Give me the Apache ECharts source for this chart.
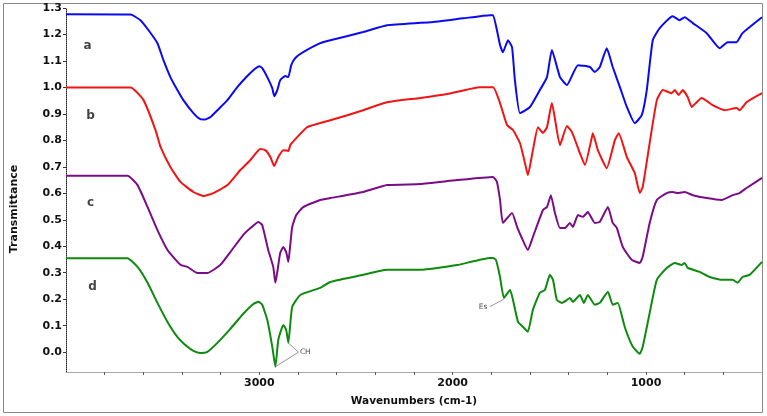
<!DOCTYPE html>
<html><head><meta charset="utf-8">
<script src="https://cdn.jsdelivr.net/npm/echarts@6/dist/echarts.min.js"></script>
<style>html,body{margin:0;padding:0;background:#fff}#c{width:767px;height:416px}</style>
</head><body><div id="c"></div>
<script>
// ---- data (wavenumber in cm-1, transmittance) ----
const aWn = [4000,3666,3615,3573,3527,3496,3460,3424,3393,3341,3305,3279,3253,3217,3165,3114,3062,3031,3000,2985,2959,2933,2923,2907,2892,2866,2850,2835,2814,2773,2685,2633,2463,2339,2117,1946,1807,1791,1771,1755,1740,1714,1693,1678,1652,1600,1549,1512,1487,1445,1409,1352,1290,1265,1239,1203,1172,1135,1099,1058,1022,996,965,929,862,826,800,758,686,619,578,532,501,400];
const aVal = [1.276,1.275,1.254,1.216,1.167,1.103,1.039,0.990,0.952,0.903,0.880,0.879,0.888,0.914,0.952,1.001,1.043,1.065,1.080,1.073,1.039,0.997,0.967,0.990,1.027,1.043,1.039,1.084,1.111,1.133,1.167,1.178,1.209,1.235,1.246,1.261,1.273,1.273,1.216,1.160,1.133,1.178,1.152,1.027,0.903,0.926,0.990,1.039,1.141,1.039,1.009,1.084,1.077,1.058,1.077,1.148,1.077,1.001,0.926,0.865,0.895,0.990,1.178,1.224,1.269,1.254,1.265,1.243,1.205,1.148,1.171,1.171,1.205,1.265];

const bWn = [4000,3666,3599,3537,3511,3460,3408,3341,3289,3238,3165,3098,3046,2995,2969,2943,2923,2902,2876,2850,2840,2804,2752,2633,2545,2463,2339,2168,2029,1859,1791,1755,1719,1688,1652,1626,1611,1585,1559,1533,1512,1487,1445,1409,1383,1342,1316,1280,1275,1249,1203,1161,1141,1099,1058,1032,1017,981,944,913,867,851,831,810,784,764,738,712,655,593,531,516,480,400];
const bVal = [1.000,1.000,0.952,0.839,0.775,0.699,0.643,0.605,0.590,0.601,0.631,0.688,0.726,0.767,0.763,0.737,0.703,0.737,0.763,0.760,0.782,0.812,0.850,0.876,0.895,0.914,0.944,0.960,0.975,1.001,1.001,0.941,0.858,0.839,0.790,0.714,0.669,0.763,0.850,0.828,0.850,0.941,0.782,0.854,0.831,0.752,0.707,0.812,0.827,0.763,0.695,0.801,0.827,0.737,0.676,0.601,0.624,0.790,0.952,0.990,0.978,0.990,0.971,0.990,0.963,0.926,0.944,0.960,0.933,0.914,0.922,0.914,0.944,0.978];

const cWn = [4000,3682,3630,3578,3527,3475,3408,3372,3320,3269,3201,3150,3083,3046,3005,2985,2954,2928,2917,2907,2892,2876,2861,2850,2840,2830,2809,2773,2685,2633,2463,2339,2168,1977,1791,1771,1755,1740,1693,1667,1642,1611,1585,1533,1512,1492,1471,1445,1419,1394,1378,1352,1327,1301,1265,1239,1197,1172,1151,1120,1073,1032,1017,981,944,893,862,836,800,758,686,609,552,516,480,400];
const cVal = [0.666,0.666,0.631,0.548,0.461,0.386,0.330,0.322,0.299,0.299,0.330,0.378,0.443,0.469,0.492,0.480,0.386,0.322,0.262,0.303,0.375,0.397,0.378,0.341,0.405,0.473,0.518,0.548,0.575,0.582,0.605,0.631,0.635,0.650,0.662,0.643,0.575,0.488,0.526,0.473,0.431,0.386,0.435,0.537,0.548,0.593,0.526,0.469,0.469,0.488,0.473,0.518,0.511,0.529,0.488,0.492,0.548,0.488,0.469,0.397,0.348,0.337,0.360,0.488,0.575,0.601,0.605,0.601,0.605,0.593,0.582,0.575,0.593,0.601,0.620,0.658];

const dWn = [4000,3682,3630,3578,3527,3475,3424,3372,3341,3305,3269,3217,3150,3083,3031,3005,2985,2959,2933,2917,2902,2876,2861,2850,2830,2788,2685,2633,2463,2339,2168,1977,1807,1791,1776,1755,1735,1703,1688,1662,1636,1611,1585,1549,1523,1497,1481,1461,1435,1409,1394,1378,1342,1321,1301,1265,1239,1197,1172,1146,1110,1068,1032,1017,981,944,893,851,815,800,784,722,671,604,552,526,501,464,400];
const dVal = [0.355,0.355,0.322,0.262,0.186,0.114,0.058,0.020,0.005,-0.003,0.001,0.035,0.088,0.145,0.182,0.190,0.179,0.122,0.020,-0.055,0.046,0.103,0.084,0.035,0.171,0.216,0.243,0.265,0.292,0.311,0.311,0.329,0.356,0.356,0.348,0.284,0.205,0.235,0.197,0.114,0.095,0.077,0.160,0.224,0.235,0.292,0.273,0.197,0.186,0.197,0.205,0.190,0.216,0.186,0.216,0.179,0.186,0.228,0.179,0.186,0.095,0.020,-0.006,0.020,0.148,0.273,0.318,0.337,0.329,0.337,0.318,0.303,0.284,0.273,0.273,0.262,0.284,0.292,0.341];

// curve letters
const curveNames = ['a','b','c','d'];
const curveLabelWn = [3889,3873,3873,3863];
const curveLabelVal = [1.157,0.893,0.563,0.246];

// annotations
const chWn = [2917,2798,2850];
const chVal = [-0.055,0.0,0.035];
const esWn = [1807,1735];
const esVal = [0.172,0.200];

// axes
const xTickValues = [3800,3600,3400,3200,3000,2800,2600,2400,2200,2000,1800,1600,1400,1200,1000,800,600];
const xLabelValues = [3000,2000,1000];
const yLabelValues = [0.0,0.1,0.2,0.3,0.4,0.5,0.6,0.7,0.8,0.9,1.0,1.1,1.2,1.3];

const colors = ['#0a0af2','#f01414','#7b0c88','#0e8a0e'];

function pairs(w,v){return w.map((x,i)=>[x,v[i]]);}

const chart = echarts.init(document.getElementById('c'), null, {renderer:'canvas'});
const tickFont = {fontFamily:'DejaVu Sans', fontWeight:'bold', fontSize:11, color:'#111'};

const curveSeries = [[aWn,aVal],[bWn,bVal],[cWn,cVal],[dWn,dVal]].map((s,i)=>({
  type:'line', name:curveNames[i], data:pairs(s[0],s[1]), showSymbol:false, symbol:'none',
  smooth:0.15, lineStyle:{color:colors[i], width:2}, silent:true, animation:false, z:3
}));

chart.setOption({
  animation:false,
  backgroundColor:'#fff',
  grid:{left:66, right:5, top:8, bottom:44, containLabel:false, outerBoundsMode:'none'},
  xAxis:{
    type:'value', min:400, max:4000, inverse:true,
    name:'Wavenumbers (cm-1)', nameLocation:'middle', nameGap:24,
    nameTextStyle:{fontFamily:'DejaVu Sans', fontWeight:'bold', fontSize:10.5, color:'#111'},
    axisLine:{show:true, onZero:false, lineStyle:{color:'#a8a8a8', width:1}},
    axisTick:{show:true, length:3, customValues:xTickValues, lineStyle:{color:'#555'}},
    axisLabel:{show:true, customValues:xLabelValues, margin:6, formatter:v=>String(v), ...tickFont},
    splitLine:{show:false}
  },
  yAxis:{
    type:'value', min:-0.075, max:1.3,
    axisLine:{show:true, onZero:false, lineStyle:{color:'#222', width:1, type:'dotted'}},
    axisTick:{show:true, length:3, customValues:yLabelValues, lineStyle:{color:'#333'}},
    axisLabel:{show:true, customValues:yLabelValues, margin:4, formatter:v=>v.toFixed(1), ...tickFont},
    splitLine:{show:false}
  },
  series:[
    ...curveSeries,
    {type:'scatter', silent:true, symbol:'circle', symbolSize:1, itemStyle:{color:'rgba(0,0,0,0)'},
      data:curveNames.map((n,i)=>[curveLabelWn[i],curveLabelVal[i],n]),
      label:{show:true, position:'inside', formatter:p=>p.data[2], fontFamily:'DejaVu Sans', fontWeight:'bold', fontSize:12, color:'#111'}},
    {type:'line', silent:true, symbol:'none', data:pairs(chWn,chVal), lineStyle:{color:'#777', width:0.8}, z:4},
    {type:'line', silent:true, symbol:'none', data:pairs(esWn,esVal), lineStyle:{color:'#777', width:0.8}, z:4},
    {type:'scatter', silent:true, symbol:'circle', symbolSize:1, itemStyle:{color:'rgba(0,0,0,0)'},
      data:[[chWn[1],chVal[1],'CH']],
      label:{show:true, position:'right', distance:1, formatter:p=>p.data[2], fontFamily:'DejaVu Sans', fontSize:7.5, color:'#222'}},
    {type:'scatter', silent:true, symbol:'circle', symbolSize:1, itemStyle:{color:'rgba(0,0,0,0)'},
      data:[[esWn[0],esVal[0],'Es']],
      label:{show:true, position:'left', distance:2, formatter:p=>p.data[2], fontFamily:'DejaVu Sans', fontSize:7.5, color:'#222'}}
  ],
  graphic:[
    {type:'rect', silent:true, shape:{x:3.5, y:3.5, width:759, height:409}, style:{fill:'none', stroke:'#8a8a8a', lineWidth:1}, z:-1},
    {type:'text', silent:true, x:14, y:209, rotation:Math.PI/2,
      style:{text:'Transmittance', fontFamily:'DejaVu Sans', fontWeight:'bold', fontSize:11, fill:'#111', textAlign:'center', textVerticalAlign:'middle'}}
  ]
});
</script>
</body></html>
